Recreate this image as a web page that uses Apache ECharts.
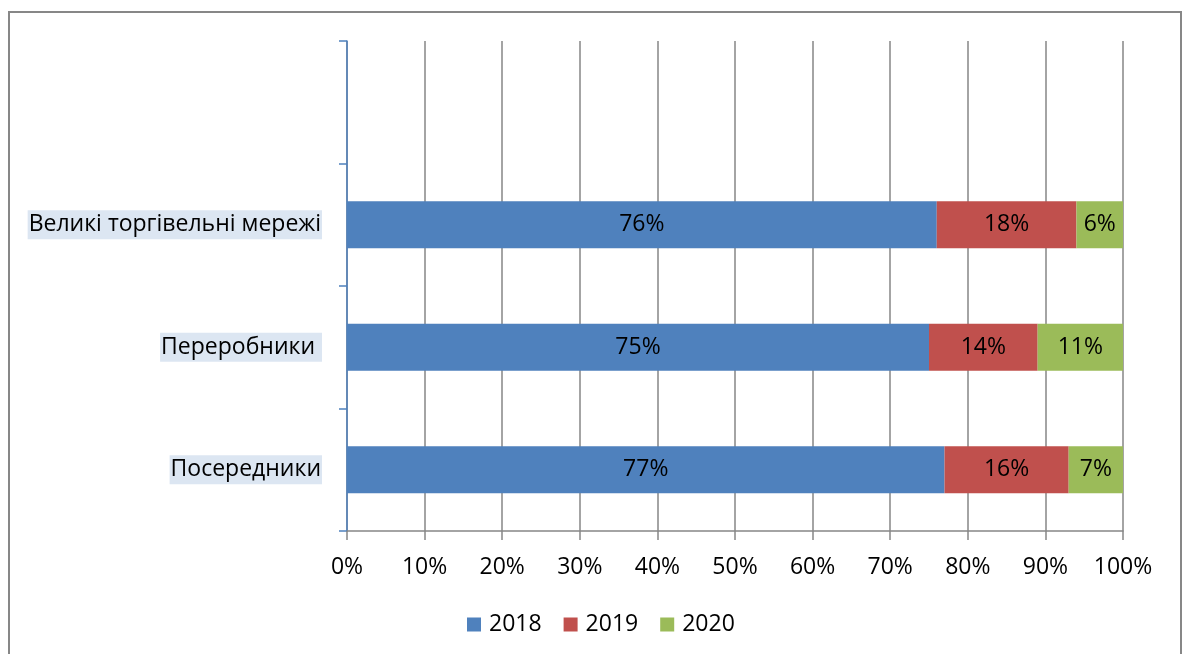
<!DOCTYPE html>
<html><head><meta charset="utf-8">
<script src="https://cdn.jsdelivr.net/npm/echarts@6/dist/echarts.min.js"></script>
<style>html,body{margin:0;padding:0;background:#fff}#c{width:1182px;height:654px}</style>
</head><body><div id="c"></div>
<script>
const categories = ['Посередники', 'Переробники ', 'Великі торгівельні мережі', ''];
const series2018 = [77, 75, 76, null];
const series2019 = [16, 14, 18, null];
const series2020 = [7, 11, 6, null];
const seriesNames = ['2018', '2019', '2020'];
const colors = ['#4f81bd', '#c0504d', '#9bbb59'];
const xTicks = [0, 10, 20, 30, 40, 50, 60, 70, 80, 90, 100];

const FONT = 'Open Sans';
const FS = 23;
const chart = echarts.init(document.getElementById('c'));
const mk = (name, data, color) => ({
  name, type: 'bar', stack: 'total', data, barWidth: 47,
  itemStyle: { color },
  label: { show: true, position: 'inside', formatter: p => p.value + '%', color: '#000', fontFamily: FONT, fontSize: FS },
  silent: true
});
chart.setOption({
  animation: false,
  textStyle: { fontFamily: FONT },
  graphic: [{ type: 'rect', shape: { x: 9, y: 12, width: 1172, height: 660 }, style: { fill: 'none', stroke: '#878787', lineWidth: 2 }, silent: true }],
  grid: { left: 347, right: 59, top: 41, bottom: 123, containLabel: false },
  legend: {
    bottom: 13, left: 462, itemWidth: 14, itemHeight: 14, itemGap: 22,
    icon: 'rect', textStyle: { fontSize: FS, color: '#000', fontFamily: FONT, padding: [0, 0, 0, 3] },
    data: seriesNames
  },
  xAxis: {
    type: 'value', min: 0, max: 100, interval: 10,
    axisLine: { show: true, lineStyle: { color: '#868686', width: 1.5 } },
    axisTick: { show: true, length: 9, lineStyle: { color: '#868686', width: 1.5 } },
    splitLine: { show: true, lineStyle: { color: '#868686', width: 1.5 } },
    axisLabel: { formatter: v => xTicks.includes(v) ? v + '%' : '', color: '#000', fontSize: FS, fontFamily: FONT, margin: 25 }
  },
  yAxis: {
    type: 'category', data: categories,
    axisLine: { show: true, lineStyle: { color: '#4f81bd', width: 1.5 } },
    axisTick: { show: true, length: 8, inside: false, lineStyle: { color: '#4f81bd', width: 1.5 } },
    axisLabel: {
      margin: 25,
      formatter: v => v ? '{b|' + v + '}' : '',
      rich: { b: { color: '#000', fontSize: FS, fontFamily: FONT, backgroundColor: '#dce6f2', padding: [3, 1, 3, 1] } }
    }
  },
  series: [mk(seriesNames[0], series2018, colors[0]), mk(seriesNames[1], series2019, colors[1]), mk(seriesNames[2], series2020, colors[2])]
});
</script></body></html>
